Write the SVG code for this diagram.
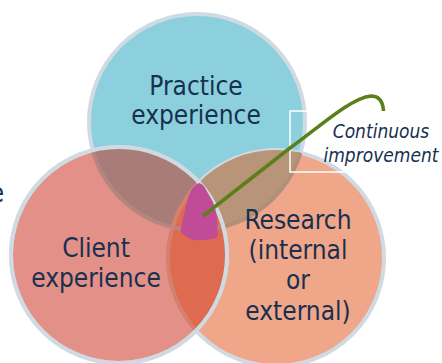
<svg xmlns="http://www.w3.org/2000/svg" width="442" height="363" viewBox="0 0 442 363">
<style>
.t{font-family:"DejaVu Sans Condensed","DejaVu Sans","Noto Sans",sans-serif;font-stretch:condensed;font-size:26px;fill:#17304f;text-anchor:middle}
.i{font-family:"DejaVu Sans Condensed","DejaVu Sans","Noto Sans",sans-serif;font-stretch:condensed;font-size:19px;font-style:italic;fill:#17304f;text-anchor:middle}
.c{stroke:#cfdae2;stroke-width:4}
.o{fill:none;stroke-width:4}
</style>
<defs>
<clipPath id="ct"><circle cx="197" cy="122" r="108"/></clipPath>
<clipPath id="cc"><circle cx="119" cy="255" r="108"/></clipPath>
<clipPath id="cr"><circle cx="276" cy="258" r="108"/></clipPath>
</defs>
<rect width="442" height="363" fill="#fff"/>
<text class="t" x="-3" y="202">e</text>
<g id="practice"><circle class="c" cx="197" cy="122" r="108" fill="#8bd0dc"/></g>
<g id="research"><circle class="c" cx="276" cy="258" r="108" fill="#f0a688"/>
<circle cx="276" cy="258" r="108" fill="#b89478" clip-path="url(#ct)"/>
<circle class="o" cx="197" cy="122" r="108" stroke="#b09078" clip-path="url(#cr)"/></g>
<g id="client"><circle class="c" cx="119" cy="255" r="108" fill="#e29088"/>
<circle cx="119" cy="255" r="108" fill="#a87c78" clip-path="url(#ct)"/>
<circle cx="119" cy="255" r="108" fill="#de6a50" clip-path="url(#cr)"/>
<circle class="o" cx="197" cy="122" r="108" stroke="#b58680" clip-path="url(#cc)"/>
<circle class="o" cx="276" cy="258" r="108" stroke="#d4806e" clip-path="url(#cc)"/>
<circle class="c" cx="119" cy="255" r="108" fill="none"/></g>
<rect x="290" y="111" width="148" height="61" fill="none" stroke="#fff" stroke-width="1.500"/>
<g id="overlap"><path d="M199 183Q203 184 205 188L213 202Q217 212 217 223L218 236Q216 239 212 239Q203 241 194 240Q187 238 183 234Q180 232 181 228Q183 218 185 210Q187 200 190 193Q192 187 199 183Z" fill="#c04c98"/></g>
<g id="connectors"><path d="M203 216L290 148C316 130 350 98 371 96C380 96 383 103 383.500 111" fill="none" stroke="#5b7f1a" stroke-width="3.500"/></g>
<g id="labels">
<text class="t" x="196" y="95">Practice</text>
<text class="t" x="196" y="124">experience</text>
<text class="t" x="96" y="257">Client</text>
<text class="t" x="96" y="287">experience</text>
<text class="t" x="298" y="229">Research</text>
<text class="t" x="298" y="259">(internal</text>
<text class="t" x="298" y="289">or</text>
<text class="t" x="298" y="320">external)</text>
<text class="i" x="381" y="138">Continuous</text>
<text class="i" x="381" y="162">improvement</text>
</g>
</svg>
